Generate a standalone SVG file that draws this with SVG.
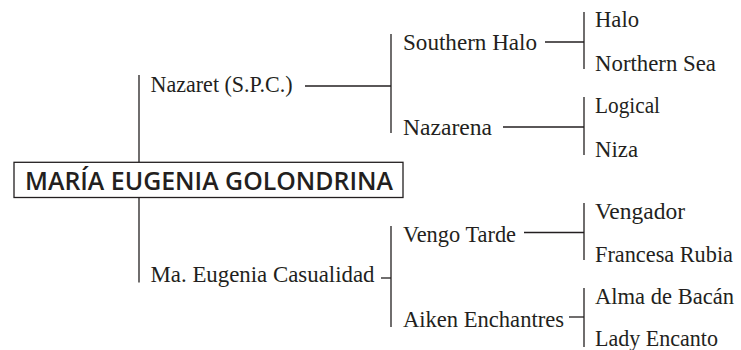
<svg xmlns="http://www.w3.org/2000/svg" width="741" height="350" viewBox="0 0 741 350">
<style>
.t{font-family:"Liberation Serif","Times New Roman",serif;font-size:24px;fill:#231f20}
.s{font-size:22.5px}
.root{font-family:"Open Sans","Noto Sans",sans-serif;font-size:25px;font-weight:600;fill:#231f20}
.c line{stroke:#231f20;stroke-width:1.3}
.box{fill:#fff;stroke:#231f20;stroke-width:1.3}
</style>
<rect width="741" height="350" fill="#fff"/>
<g class="c" id="connectors">
<line x1="139" y1="75" x2="139" y2="162"/>
<line x1="139" y1="197.5" x2="139" y2="282.5"/>
<line x1="305" y1="86" x2="391" y2="86"/>
<line x1="391" y1="34" x2="391" y2="133"/>
<line x1="381" y1="278" x2="391" y2="278"/>
<line x1="391" y1="226" x2="391" y2="327"/>
<line x1="545" y1="42" x2="584" y2="42"/>
<line x1="584" y1="12" x2="584" y2="69"/>
<line x1="503" y1="127" x2="584" y2="127"/>
<line x1="584" y1="97" x2="584" y2="155"/>
<line x1="524" y1="232.5" x2="584" y2="232.5"/>
<line x1="584" y1="203" x2="584" y2="260"/>
<line x1="569" y1="317" x2="584" y2="317"/>
<line x1="584" y1="288" x2="584" y2="347"/>
</g>
<g id="root"><rect class="box" x="14" y="162.3" width="389" height="35.2"/><text class="root" x="25" y="190" textLength="368" lengthAdjust="spacingAndGlyphs">MARÍA EUGENIA GOLONDRINA</text></g>
<g id="sire"><text class="t" x="150.5" y="92" textLength="142" lengthAdjust="spacingAndGlyphs">Nazaret (S.P.C.)</text></g>
<g id="dam"><text class="t" x="150.5" y="282" textLength="224" lengthAdjust="spacingAndGlyphs">Ma. Eugenia Casualidad</text></g>
<g id="ss"><text class="t" x="403" y="50" textLength="134" lengthAdjust="spacingAndGlyphs">Southern Halo</text></g>
<g id="sd"><text class="t" x="403" y="134.5" textLength="89" lengthAdjust="spacingAndGlyphs">Nazarena</text></g>
<g id="ds"><text class="t" x="403" y="241.5" textLength="113" lengthAdjust="spacingAndGlyphs">Vengo Tarde</text></g>
<g id="dd"><text class="t" x="403" y="326.5" textLength="161" lengthAdjust="spacingAndGlyphs">Aiken Enchantres</text></g>
<g id="sss"><text class="t" x="595" y="27" textLength="44" lengthAdjust="spacingAndGlyphs">Halo</text></g>
<g id="ssd"><text class="t" x="595" y="71" textLength="121" lengthAdjust="spacingAndGlyphs">Northern Sea</text></g>
<g id="sds"><text class="t" x="595" y="113" textLength="65" lengthAdjust="spacingAndGlyphs">Logical</text></g>
<g id="sdd"><text class="t" x="595" y="156.5" textLength="43" lengthAdjust="spacingAndGlyphs">Niza</text></g>
<g id="dss"><text class="t" x="595" y="218.5" textLength="90" lengthAdjust="spacingAndGlyphs">Vengador</text></g>
<g id="dsd"><text class="t s" x="595" y="261.5" textLength="138" lengthAdjust="spacingAndGlyphs">Francesa Rubia</text></g>
<g id="dds"><text class="t s" x="595" y="303.5" textLength="139" lengthAdjust="spacingAndGlyphs">Alma de Bacán</text></g>
<g id="ddd"><text class="t" x="595" y="345.5" textLength="123" lengthAdjust="spacingAndGlyphs">Lady Encanto</text></g>
</svg>
